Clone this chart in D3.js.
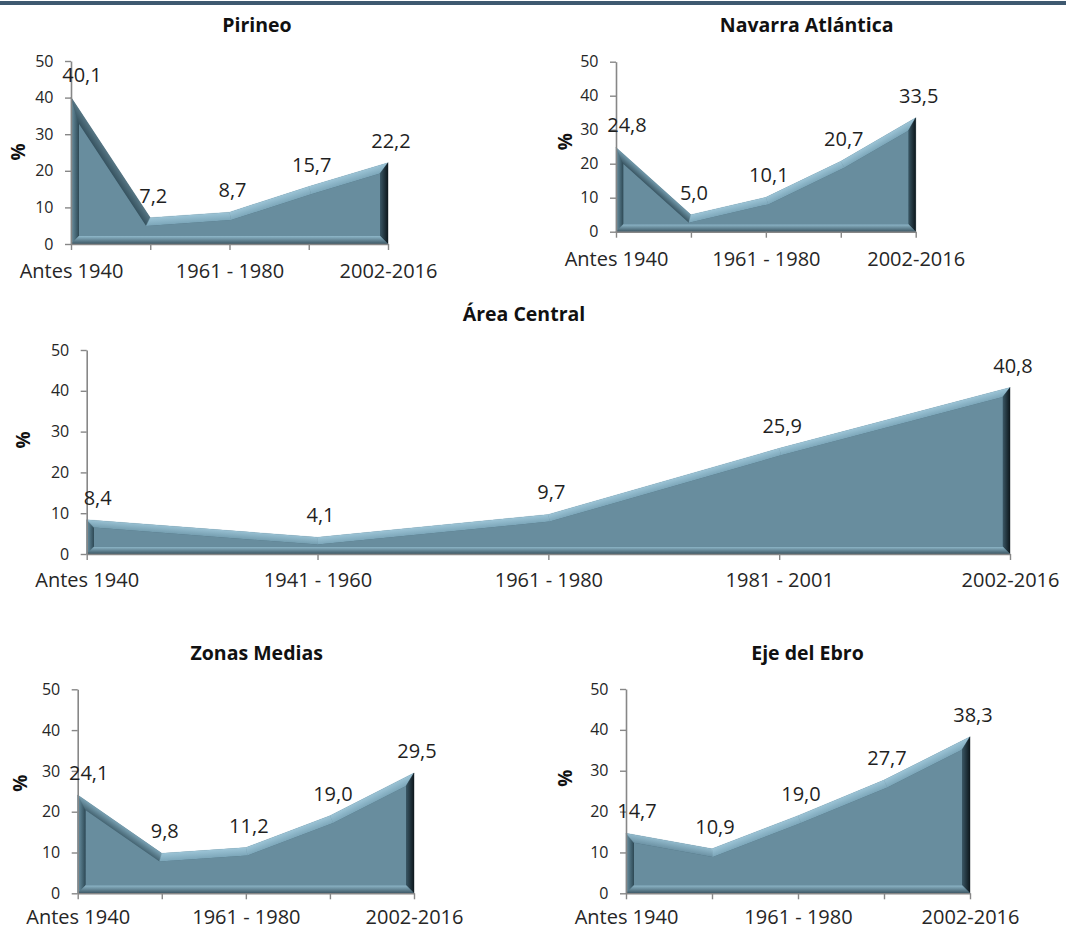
<!DOCTYPE html>
<html><head><meta charset="utf-8">
<script src="https://cdn.jsdelivr.net/npm/d3@7"></script>
<style>body{margin:0;background:#fff}</style>
</head><body>
<svg id="c" width="1066" height="931" xmlns="http://www.w3.org/2000/svg"></svg>
<script>
// ---- data ----
const categories = ["Antes 1940", "1941 - 1960", "1961 - 1980", "1981 - 2001", "2002-2016"];
const yTicks = [0, 10, 20, 30, 40, 50];
const titles = ["Pirineo", "Navarra Atlántica", "Área Central", "Zonas Medias", "Eje del Ebro"];
const pirineo = [40.1, 7.2, 8.7, 15.7, 22.2];
const navarraAtlantica = [24.8, 5.0, 10.1, 20.7, 33.5];
const areaCentral = [8.4, 4.1, 9.7, 25.9, 40.8];
const zonasMedias = [24.1, 9.8, 11.2, 19.0, 29.5];
const ejeDelEbro = [14.7, 10.9, 19.0, 27.7, 38.3];
const yLabel = "%";

// ---- layout ----
const FONT = "'Open Sans', 'Liberation Sans', sans-serif";
const panels = [
  {title: titles[0], values: pirineo,          xr: [71, 388],    yr: [244, 61],     tx: 257,   ty: 31.7,  pct: [18, 152],   every: 2, lp: 13.8},
  {title: titles[1], values: navarraAtlantica, xr: [616, 915.7], yr: [231.7, 61.7], tx: 806.7, ty: 31.7,  pct: [565, 141.7], every: 2, lp: 14.5},
  {title: titles[2], values: areaCentral,      xr: [86.7, 1010], yr: [554, 350],    tx: 524,   ty: 320.7, pct: [23, 440],    every: 1, lp: 13},
  {title: titles[3], values: zonasMedias,      xr: [77.7, 414],  yr: [893.3, 689.3],tx: 256.7, ty: 660,   pct: [20, 783.3],  every: 2, lp: 10.5},
  {title: titles[4], values: ejeDelEbro,       xr: [626, 970],   yr: [893.3, 689],  tx: 807.5, ty: 660,   pct: [565, 778.3], every: 2, lp: 10.5}
];

const svg = d3.select("#c");
svg.append("rect").attr("x", 0).attr("y", 0).attr("width", 1066).attr("height", 931).attr("fill", "#fff");
svg.append("rect").attr("x", 0).attr("y", 1).attr("width", 1066).attr("height", 4).attr("fill", "#3e5970");
const defs = svg.append("defs");

const FACE = "#688d9e";
// bevel colours keyed by outward normal angle (deg): [angle, outer, inner]
const keys = [
  [-180, "#6b93a5", "#2d4854"],
  [-135, "#9cc4d6", "#7ca6b9"],
  [-90,  "#9cc4d6", "#7ca6b9"],
  [-45,  "#6f97a9", "#35505d"],
  [0,    "#0d171c", "#3a5765"],
  [90,   "#3c5764", "#8fb8ca"],
  [180,  "#6b93a5", "#2d4854"]
];
function bevelColors(a) {
  for (let k = 0; k < keys.length - 1; k++) {
    const [a0, o0, i0] = keys[k], [a1, o1, i1] = keys[k + 1];
    if (a >= a0 && a <= a1) {
      const t = (a - a0) / (a1 - a0);
      return [d3.interpolateRgb(o0, o1)(t), d3.interpolateRgb(i0, i1)(t)];
    }
  }
  return [keys[0][1], keys[0][2]];
}
function intersect(a, b) {
  const cross = a.dir[0] * b.dir[1] - a.dir[1] * b.dir[0];
  if (Math.abs(cross) < 1e-9) return b.p.slice();
  const wx = b.p[0] - a.p[0], wy = b.p[1] - a.p[1];
  const t = (wx * b.dir[1] - wy * b.dir[0]) / cross;
  return [a.p[0] + t * a.dir[0], a.p[1] + t * a.dir[1]];
}
function inset(P, d) {
  const n = P.length;
  const lines = P.map((p, i) => {
    const q = P[(i + 1) % n];
    const dx = q[0] - p[0], dy = q[1] - p[1], L = Math.hypot(dx, dy);
    const nx = -dy / L, ny = dx / L; // inward normal
    return {p: [p[0] + d * nx, p[1] + d * ny], dir: [dx / L, dy / L], nin: [nx, ny]};
  });
  const Q = P.map((p, i) => intersect(lines[(i - 1 + n) % n], lines[i]));
  return {Q, lines};
}
const fmt = v => v.toFixed(1).replace(".", ",");
let gid = 0;

panels.forEach(pn => {
  const g = svg.append("g");
  const x = d3.scalePoint().domain(categories).range(pn.xr).padding(0);
  const y = d3.scaleLinear().domain([0, 50]).range(pn.yr);
  const data = categories.map((c, i) => ({c, v: pn.values[i]}));

  const y0 = y(0);
  const P = [[x(categories[0]), y0]]
    .concat(data.map(d => [x(d.c), y(d.v)]))
    .concat([[x(categories[categories.length - 1]), y0]]);
  const minH = d3.min(data, d => y0 - y(d.v));
  const dpx = Math.min(8, minH / 2.3);
  const {Q, lines} = inset(P, dpx);
  const n = P.length;

  const area = d3.area().x(d => x(d.c)).y0(y0).y1(d => y(d.v));
  g.append("path").attr("d", area(data)).attr("fill", "#3f5f6e");

  P.forEach((p, i) => {
    const j = (i + 1) % n;
    const ln = lines[i];
    const ang = Math.atan2(-ln.nin[1], -ln.nin[0]) * 180 / Math.PI;
    const [co, ci] = bevelColors(ang);
    const mx = (p[0] + P[j][0]) / 2, my = (p[1] + P[j][1]) / 2;
    const id = "bv" + (gid++);
    const lg = defs.append("linearGradient").attr("id", id).attr("gradientUnits", "userSpaceOnUse")
      .attr("x1", mx).attr("y1", my).attr("x2", mx + dpx * ln.nin[0]).attr("y2", my + dpx * ln.nin[1]);
    lg.append("stop").attr("offset", 0).attr("stop-color", co);
    lg.append("stop").attr("offset", 1).attr("stop-color", ci);
    g.append("path")
      .attr("d", d3.line()([p, P[j], Q[j], Q[i]]) + "Z")
      .attr("fill", `url(#${id})`).attr("stroke", `url(#${id})`).attr("stroke-width", 0.4);
  });
  g.append("path").attr("d", d3.line()(Q) + "Z").attr("fill", FACE);

  // axes
  const xa = g.append("g").attr("transform", `translate(0,${y0})`)
    .call(d3.axisBottom(x).tickSize(6).tickSizeOuter(0).tickPadding(pn.lp)
      .tickFormat((c, i) => i % pn.every === 0 ? c : ""));
  const ya = g.append("g").attr("transform", `translate(${pn.xr[0]},0)`)
    .call(d3.axisLeft(y).tickValues(yTicks).tickSize(6).tickSizeOuter(0).tickPadding(11.5));
  [xa, ya].forEach(a => {
    a.select(".domain").attr("stroke", "#878787").attr("stroke-width", 1.6);
    a.selectAll(".tick line").attr("stroke", "#878787").attr("stroke-width", 1.4);
    a.selectAll("text").attr("fill", "#262626").attr("font-family", FONT);
  });
  xa.selectAll("text").attr("font-size", 20);
  ya.selectAll("text").attr("font-size", 16);

  // data labels
  g.selectAll(".lbl").data(data).enter().append("text")
    .attr("x", (d, i) => x(d.c) + (i === 0 ? 11 : 3))
    .attr("y", d => y(d.v) - 15)
    .attr("text-anchor", "middle").attr("font-family", FONT).attr("font-size", 20)
    .attr("fill", "#1f1f1f").text(d => fmt(d.v));

  // title and y label
  g.append("text").attr("x", pn.tx).attr("y", pn.ty).attr("text-anchor", "middle")
    .attr("font-family", FONT).attr("font-weight", "bold").attr("font-size", 19.5)
    .attr("fill", "#111").text(pn.title);
  g.append("text").attr("transform", `translate(${pn.pct[0]},${pn.pct[1]}) rotate(-90)`)
    .attr("text-anchor", "middle").attr("dy", "0.35em")
    .attr("font-family", FONT).attr("font-weight", "bold").attr("font-size", 19)
    .attr("fill", "#111").text(yLabel);
});
</script>
</body></html>
